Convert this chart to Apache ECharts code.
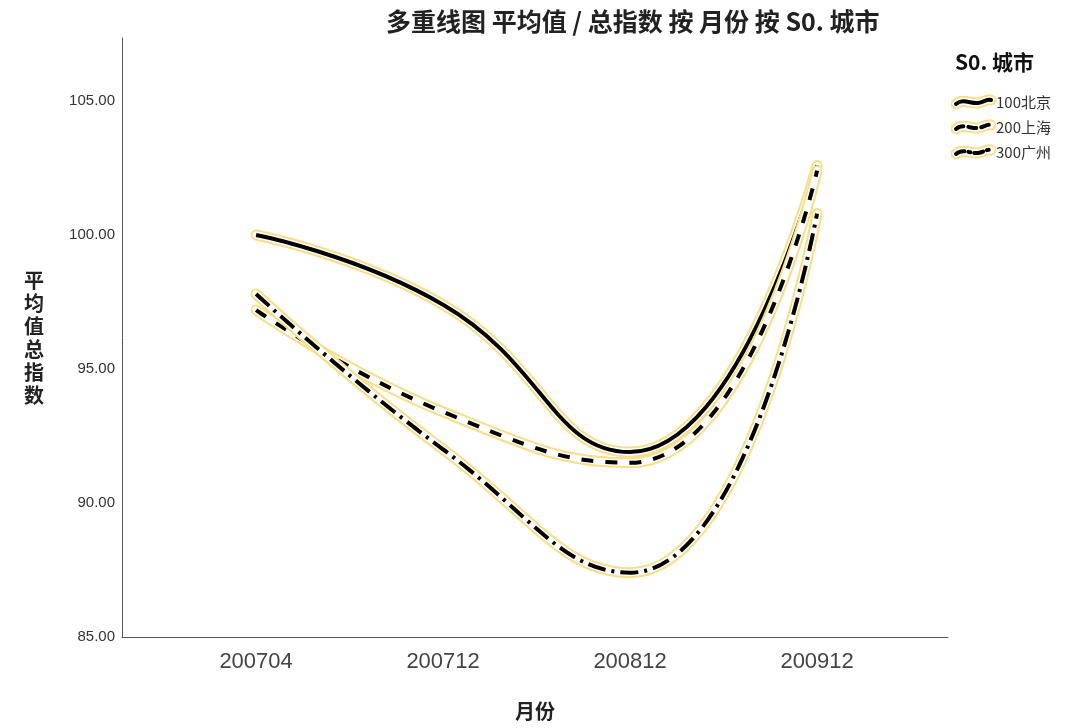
<!DOCTYPE html>
<html>
<head>
<meta charset="utf-8">
<script src="https://cdn.jsdelivr.net/npm/echarts@6/dist/echarts.min.js"></script>
<style>
html,body{margin:0;padding:0;background:#fff;}
#c{width:1089px;height:728px;}
</style>
</head>
<body>
<div id="c"></div>
<script>
const months = ['200704', '200712', '200812', '200912'];
const cities = ['100北京', '200上海', '300广州'];
const beijing = [100.0, 97.4, 91.9, 102.6];
const shanghai = [97.2, 93.4, 91.5, 102.4];
const guangzhou = [97.8, 92.0, 87.4, 100.8];
const yTicks = [85, 90, 95, 100, 105];

const seriesValues = [beijing, shanghai, guangzhou];
const dashes = ['solid', [12, 12], [18, 6, 3, 6]];
const svgDash = ['', '8,5', '9,4,2,4'];
const halo = '#f8de88';

function legendIcon(i) {
  const d = 'M5,11 C12,5 20,11 27,10 C33,9 36,6 40,7';
  const dash = svgDash[i] ? ' stroke-dasharray="' + svgDash[i] + '"' : '';
  const svg = '<svg xmlns="http://www.w3.org/2000/svg" width="46" height="18" viewBox="0 0 46 18">' +
    '<path d="' + d + '" fill="none" stroke="' + halo + '" stroke-width="11" stroke-linecap="round"/>' +
    '<path d="' + d + '" fill="none" stroke="#fff" stroke-width="7" stroke-linecap="round"/>' +
    '<path d="' + d + '" fill="none" stroke="#000" stroke-width="4" stroke-linecap="round"' + dash + '/>' +
    '</svg>';
  return 'image://data:image/svg+xml;charset=utf-8,' + encodeURIComponent(svg);
}

const series = [];
seriesValues.forEach(function (vals, i) {
  const data = vals.map(function (v, k) { return [k, v]; });
  const base = { type: 'line', data: data, smooth: true, showSymbol: false, silent: true, animation: false };
  series.push(Object.assign({}, base, { name: cities[i] + '_h', lineStyle: { color: halo, width: 11, cap: 'round' }, z: 2 + i * 3 }));
  series.push(Object.assign({}, base, { name: cities[i] + '_w', lineStyle: { color: '#ffffff', width: 7, cap: 'round' }, z: 3 + i * 3 }));
  series.push(Object.assign({}, base, { name: cities[i], itemStyle: { color: '#000' }, lineStyle: { color: '#000', width: 4, type: dashes[i], cap: 'butt' }, z: 4 + i * 3 }));
});

const chart = echarts.init(document.getElementById('c'), null, { renderer: 'canvas' });
chart.setOption({
  animation: false,
  backgroundColor: '#fff',
  title: [
    { text: '多重线图 平均值 / 总指数 按 月份 按 S0. 城市', left: 381, top: 4,
      textStyle: { fontFamily: 'Noto Sans CJK SC', fontSize: 25, fontWeight: 'bold', color: '#222' } },
    { text: 'S0. 城市', left: 950, top: 47,
      textStyle: { fontFamily: 'Noto Sans CJK SC', fontSize: 21, fontWeight: 'bold', color: '#111' } }
  ],
  legend: {
    orient: 'vertical', left: 946, top: 88, itemWidth: 46, itemHeight: 18, itemGap: 7,
    data: cities.map(function (c, i) { return { name: c, icon: legendIcon(i) }; }),
    textStyle: { fontFamily: 'Noto Sans CJK SC', fontSize: 15, color: '#333', padding: [0, 0, 0, -6] },
    selectedMode: false
  },
  grid: { left: 122, right: 141, top: 38, bottom: 91, containLabel: false, outerBoundsMode: 'none' },
  xAxis: {
    type: 'value', min: -0.717, max: 3.70,
    name: '月份', nameLocation: 'middle', nameGap: 64,
    nameTextStyle: { fontFamily: 'Noto Sans CJK SC', fontSize: 20, fontWeight: 'bold', color: '#222' },
    axisLine: { show: true, onZero: false, lineStyle: { color: '#555', width: 1 } },
    axisTick: { show: false },
    splitLine: { show: false },
    axisLabel: {
      customValues: [0, 1, 2, 3],
      formatter: function (v) { return months[Math.round(v)]; },
      fontFamily: 'Liberation Sans', fontSize: 22, color: '#444', margin: 14
    }
  },
  yAxis: {
    type: 'value', min: 85, max: 107.35,
    name: '平\n均\n值\n总\n指\n数', nameLocation: 'middle', nameGap: 78, nameRotate: 0,
    nameTextStyle: { fontFamily: 'Noto Sans CJK SC', fontSize: 20, fontWeight: 'bold', color: '#222', lineHeight: 23 },
    axisLine: { show: true, onZero: false, lineStyle: { color: '#555', width: 1 } },
    axisTick: { show: false },
    splitLine: { show: false },
    axisLabel: {
      customValues: yTicks,
      formatter: function (v) { return v.toFixed(2); },
      fontFamily: 'Liberation Sans', fontSize: 15, color: '#333', margin: 7
    }
  },
  series: series
});
</script>
</body>
</html>
